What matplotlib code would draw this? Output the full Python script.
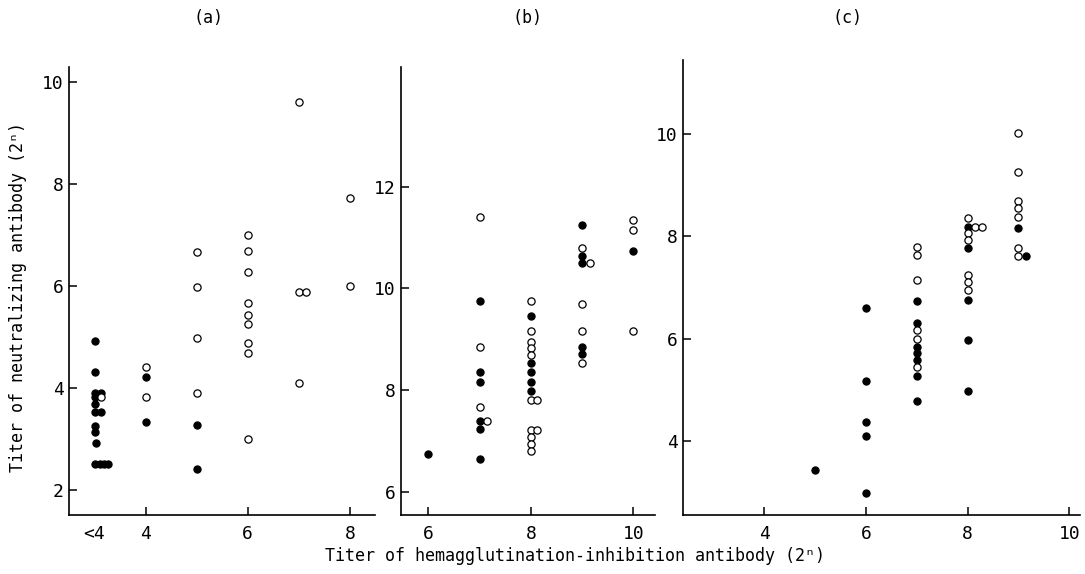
import matplotlib
matplotlib.use("Agg")
import matplotlib.pyplot as plt

plt.rcParams['font.family'] = ['DejaVu Sans Mono', 'DejaVu Sans']

# panel (a): <4 is drawn at x = 3
a_filled_x = [3, 3, 3, 3.13, 3, 3, 3, 3.13, 3, 3, 3.02, 3, 3.11, 3.19, 3.27,
              4, 4, 5, 5]
a_filled_y = [4.92, 4.32, 3.91, 3.91, 3.82, 3.69, 3.52, 3.52, 3.25, 3.14, 2.92,
              2.50, 2.50, 2.50, 2.50, 4.22, 3.33, 3.27, 2.41]
a_open_x = [3.13, 4, 4, 5, 5, 5, 5, 6, 6, 6, 6, 6, 6, 6, 6, 6,
            7, 7, 7.13, 7, 8, 8]
a_open_y = [3.82, 4.42, 3.82, 6.67, 5.98, 4.97, 3.91, 6.99, 6.69, 6.28, 5.67,
            5.43, 5.25, 4.88, 4.68, 2.99, 9.60, 5.88, 5.88, 4.09, 7.72, 5.99]

# panel (b)
b_filled_x = [6, 7, 7, 7, 7, 7, 7, 8, 8, 8, 8, 8,
              9, 9, 9, 9, 9, 10]
b_filled_y = [6.73, 9.75, 8.35, 8.15, 7.38, 7.23, 6.64, 9.45, 8.52, 8.35, 8.15,
              7.97, 11.25, 10.64, 10.49, 8.85, 8.71, 10.74]
b_open_x = [7, 7, 7, 7.14, 8, 8, 8, 8, 8, 8, 8.13, 8, 8.13, 8, 8, 8,
            9, 9.15, 9, 9, 9, 10, 10, 10]
b_open_y = [11.40, 8.85, 7.66, 7.38, 9.75, 9.15, 8.95, 8.82, 8.68, 7.80, 7.80,
            7.22, 7.22, 7.08, 6.93, 6.79, 10.79, 10.49, 9.69, 9.15, 8.53,
            11.34, 11.15, 9.15]

# panel (c)
c_filled_x = [5, 6, 6, 6, 6, 6, 7, 7, 7, 7, 7, 7, 7,
              8, 8, 8, 8, 8, 9, 9.15]
c_filled_y = [3.43, 6.59, 5.17, 4.37, 4.09, 2.99, 6.74, 6.30, 5.84, 5.71, 5.58,
              5.27, 4.78, 8.19, 7.78, 6.75, 5.97, 4.98, 8.17, 7.61]
c_open_x = [7, 7, 7, 7, 7, 7, 8, 8.15, 8.28, 8, 8, 8, 8, 8,
            9, 9, 9, 9, 9, 9, 9]
c_open_y = [7.80, 7.63, 7.14, 6.17, 6.00, 5.44, 8.36, 8.19, 8.19, 8.06, 7.93,
            7.24, 7.11, 6.96, 10.03, 9.26, 8.70, 8.55, 8.38, 7.78, 7.61]

a_xticks = [3, 4, 6, 8]
a_xticklabels = ['<4', '4', '6', '8']
a_yticks = [2, 4, 6, 8, 10]
b_xticks = [6, 8, 10]
b_yticks = [6, 8, 10, 12]
c_xticks = [4, 6, 8, 10]
c_yticks = [4, 6, 8, 10]

W, H = 1085, 574
fig = plt.figure(figsize=(W / 100, H / 100), dpi=100)


def make_axes(left, right, top, bottom):
    ax = fig.add_axes([left / W, 1 - bottom / H, (right - left) / W, (bottom - top) / H])
    for s in ['top', 'right']:
        ax.spines[s].set_visible(False)
    for s in ['left', 'bottom']:
        ax.spines[s].set_linewidth(1.2)
    ax.tick_params(direction='in', length=6, width=1.1, labelsize=13)
    ax.tick_params(axis='x', pad=7)
    ax.tick_params(axis='y', pad=4)
    return ax


def draw_points(ax, fx, fy, ox, oy):
    ax.plot(fx, fy, 'o', ls='none', ms=5.2, mfc='black', mec='black', mew=0.8, clip_on=False)
    ax.plot(ox, oy, 'o', ls='none', ms=5.2, mfc='white', mec='black', mew=0.9, clip_on=False)


ax_a = make_axes(69, 375, 67, 515)
draw_points(ax_a, a_filled_x, a_filled_y, a_open_x, a_open_y)
ax_a.set_xlim(2.5, 8.49)
ax_a.set_ylim(1.51, 10.29)
ax_a.set_xticks(a_xticks)
ax_a.set_xticklabels(a_xticklabels)
ax_a.xaxis.get_major_ticks()[0].tick1line.set_visible(False)
ax_a.set_yticks(a_yticks)

ax_b = make_axes(401, 655, 67, 515)
draw_points(ax_b, b_filled_x, b_filled_y, b_open_x, b_open_y)
ax_b.set_xlim(5.47, 10.42)
ax_b.set_ylim(5.54, 14.35)
ax_b.set_xticks(b_xticks)
ax_b.set_yticks(b_yticks)

ax_c = make_axes(683, 1080, 60, 515)
draw_points(ax_c, c_filled_x, c_filled_y, c_open_x, c_open_y)
ax_c.set_xlim(2.4, 10.21)
ax_c.set_ylim(2.55, 11.45)
ax_c.set_xticks(c_xticks)
ax_c.set_yticks(c_yticks)

fig.text(208 / W, 1 - 18 / H, '(a)', ha='center', va='center', fontsize=12)
fig.text(527 / W, 1 - 18 / H, '(b)', ha='center', va='center', fontsize=12)
fig.text(847 / W, 1 - 18 / H, '(c)', ha='center', va='center', fontsize=12)

fig.text(575 / W, 1 - 556 / H, 'Titer of hemagglutination-inhibition antibody (2\u207f)',
         ha='center', va='center', fontsize=12)
fig.text(18 / W, 1 - 297 / H, 'Titer of neutralizing antibody (2\u207f)',
         ha='center', va='center', rotation=90, fontsize=12)

fig.savefig('out.png', dpi=100)
